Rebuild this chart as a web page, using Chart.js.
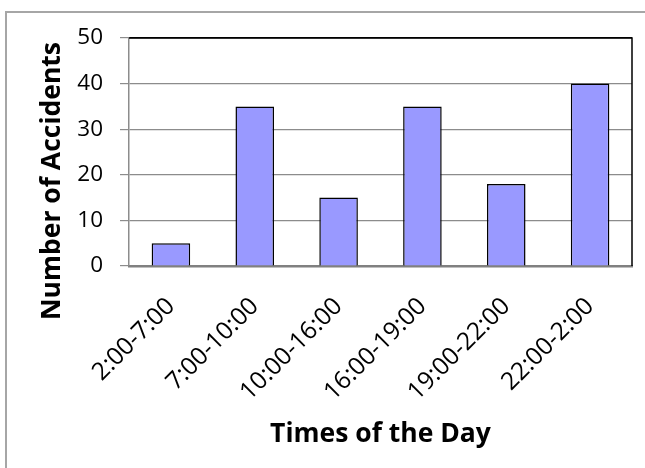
<!DOCTYPE html>
<html>
<head>
<meta charset="utf-8">
<script src="https://cdn.jsdelivr.net/npm/chart.js@4/dist/chart.umd.min.js"></script>
<style>
  html, body { margin: 0; padding: 0; background: #ffffff; }
  #wrap { position: relative; width: 645px; height: 468px; }
</style>
</head>
<body>
<div id="wrap"><canvas id="chart" width="645" height="468"></canvas></div>
<script>
// Accidents counted in each time band of the day
const timeBands = ['2:00-7:00', '7:00-10:00', '10:00-16:00', '16:00-19:00', '19:00-22:00', '22:00-2:00'];
const accidents = [5, 35, 15, 35, 18, 40];
const yTicks = [0, 10, 20, 30, 40, 50];

const FONT = '"Open Sans", "DejaVu Sans", sans-serif';

// Light frame around the whole chart, black top/right edges of the plot,
// and the two axis titles.
const framePlugin = {
  id: 'frame',
  beforeDraw(chart) {
    const ctx = chart.ctx;
    ctx.save();
    ctx.fillStyle = '#ffffff';
    ctx.fillRect(0, 0, chart.width, chart.height);
    ctx.strokeStyle = '#a6a6a6';
    ctx.lineWidth = 2;
    ctx.strokeRect(6, 12, chart.width + 20, chart.height + 20);
    ctx.restore();
  },
  afterDraw(chart) {
    const { ctx, chartArea: a } = chart;
    ctx.save();
    ctx.strokeStyle = '#000000';
    ctx.lineWidth = 1.5;
    ctx.beginPath();
    ctx.moveTo(a.left, a.top);
    ctx.lineTo(a.right, a.top);
    ctx.lineTo(a.right, a.bottom);
    ctx.stroke();

    ctx.fillStyle = '#000000';
    ctx.font = 'bold 26.5px ' + FONT;
    ctx.textAlign = 'center';
    ctx.textBaseline = 'middle';
    ctx.fillText('Times of the Day', (a.left + a.right) / 2, 434);

    ctx.translate(52, 181);
    ctx.rotate(-Math.PI / 2);
    ctx.fillText('Number of Accidents', 0, 0);
    ctx.restore();
  }
};

new Chart(document.getElementById('chart'), {
  type: 'bar',
  data: {
    labels: timeBands,
    datasets: [{
      data: accidents,
      backgroundColor: '#9999ff',
      borderColor: '#000000',
      borderWidth: 1.5,
      categoryPercentage: 1,
      barPercentage: 0.46
    }]
  },
  options: {
    responsive: false,
    animation: false,
    devicePixelRatio: 1,
    layout: { padding: { top: 38, right: 13, left: 0, bottom: 0 } },
    plugins: {
      legend: { display: false },
      tooltip: { enabled: false }
    },
    scales: {
      x: {
        grid: { display: false, drawTicks: false },
        border: { display: true, color: '#808080', width: 2.5 },
        ticks: {
          color: '#000000',
          font: { family: FONT, size: 24.5 },
          maxRotation: 45,
          minRotation: 45,
          padding: 26,
          autoSkip: false
        },
        afterFit(scale) { scale.height = 202; }
      },
      y: {
        min: 0,
        max: 50,
        afterBuildTicks(scale) { scale.ticks = yTicks.map(v => ({ value: v })); },
        grid: {
          color: (c) => (c.tick && c.tick.value === 50 ? '#000000' : '#8c8c8c'),
          lineWidth: 1.2,
          tickLength: 9,
          tickColor: '#8c8c8c'
        },
        border: { display: true, color: '#8c8c8c', width: 1.5 },
        ticks: {
          color: '#000000',
          font: { family: FONT, size: 22.5 },
          padding: 17
        },
        afterFit(scale) { scale.width = 129; }
      }
    }
  },
  plugins: [framePlugin]
});
</script>
</body>
</html>
